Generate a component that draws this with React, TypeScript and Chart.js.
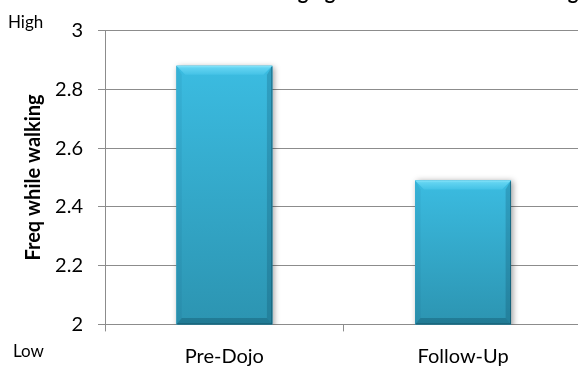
import React, { useEffect, useRef } from 'react';
import { Chart, registerables } from 'chart.js';

Chart.register(...registerables);

// Survey results: how often participants walk while distracted (2 = Low, 3 = High)
const categories = ['Pre-Dojo', 'Follow-Up'];
const freqValues = [2.88, 2.49];
const yTicks = [2, 2.2, 2.4, 2.6, 2.8, 3];
const highLabel = 'High';
const lowLabel = 'Low';
const yAxisTitle = 'Freq while walking';
const chartTitle = 'Changing Distractions while Walking';

const FONT = 'Lato, "Open Sans", sans-serif';
const GRID = '#8c8c8c';

// Soft drop shadow under the bars, then a bevelled face painted on top of each bar.
const bevelBars = {
  id: 'bevelBars',
  beforeDatasetDraw(chart: any) {
    const c = chart.ctx;
    c.save();
    c.shadowColor = 'rgba(0,0,0,0.38)';
    c.shadowBlur = 6;
    c.shadowOffsetX = 2;
    c.shadowOffsetY = 1;
  },
  afterDatasetDraw(chart: any) {
    chart.ctx.restore();
  },
  afterDatasetsDraw(chart: any) {
    const ctx = chart.ctx;
    const area = chart.chartArea;
    chart.getDatasetMeta(0).data.forEach((el: any) => {
      const { x, y, base, width } = el.getProps(['x', 'y', 'base', 'width'], true);
      const l = x - width / 2;
      const r = x + width / 2;
      const t = Math.max(y, area.top);
      const b = Math.min(base, area.bottom);
      const bv = 9;
      ctx.save();
      // body
      const body = ctx.createLinearGradient(0, t, 0, b);
      body.addColorStop(0, '#3bbce1');
      body.addColorStop(1, '#2c94b1');
      ctx.fillStyle = body;
      ctx.fillRect(l, t, width, b - t);
      // top bevel
      const top = ctx.createLinearGradient(0, t, 0, t + bv);
      top.addColorStop(0, '#8be6fb');
      top.addColorStop(0.25, '#62d3f1');
      top.addColorStop(1, '#44c2e6');
      ctx.fillStyle = top;
      ctx.beginPath();
      ctx.moveTo(l, t);
      ctx.lineTo(r, t);
      ctx.lineTo(r - bv, t + bv);
      ctx.lineTo(l + bv, t + bv);
      ctx.closePath();
      ctx.fill();
      // left bevel
      ctx.fillStyle = 'rgba(0,40,60,0.06)';
      ctx.beginPath();
      ctx.moveTo(l, t);
      ctx.lineTo(l + bv * 0.6, t + bv);
      ctx.lineTo(l + bv * 0.6, b - bv * 0.7);
      ctx.lineTo(l, b);
      ctx.closePath();
      ctx.fill();
      // right bevel
      ctx.fillStyle = 'rgba(0,40,60,0.18)';
      ctx.beginPath();
      ctx.moveTo(r, t);
      ctx.lineTo(r - bv * 0.6, t + bv);
      ctx.lineTo(r - bv * 0.6, b - bv * 0.7);
      ctx.lineTo(r, b);
      ctx.closePath();
      ctx.fill();
      // bottom bevel
      ctx.fillStyle = 'rgba(0,40,60,0.24)';
      ctx.beginPath();
      ctx.moveTo(l, b);
      ctx.lineTo(l + bv * 0.6, b - bv * 0.7);
      ctx.lineTo(r - bv * 0.6, b - bv * 0.7);
      ctx.lineTo(r, b);
      ctx.closePath();
      ctx.fill();
      // dark outer edge on right and bottom
      ctx.strokeStyle = 'rgba(10,70,90,0.55)';
      ctx.lineWidth = 1;
      ctx.beginPath();
      ctx.moveTo(r - 0.5, t + 1);
      ctx.lineTo(r - 0.5, b - 0.5);
      ctx.lineTo(l + 1, b - 0.5);
      ctx.stroke();
      ctx.restore();
    });
  },
};

// Scale end markers and the heading text above the plot.
const sideText = {
  id: 'sideText',
  afterDraw(chart: any) {
    const ctx = chart.ctx;
    ctx.save();
    ctx.fillStyle = '#000';
    ctx.font = `17px ${FONT}`;
    ctx.textAlign = 'left';
    ctx.textBaseline = 'alphabetic';
    ctx.fillText(highLabel, 8, 28);
    ctx.fillText(lowLabel, 13, 357);
    ctx.font = `bold 20px ${FONT}`;
    const pre = ctx.measureText('Chan').width;
    const gW = ctx.measureText('g').width;
    ctx.fillText(chartTitle, 303 - pre - gW / 2, -1.5);
    ctx.restore();
  },
};

export default function App() {
  const ref = useRef<HTMLCanvasElement>(null);

  useEffect(() => {
    if (!ref.current) return;
    const chart = new Chart(ref.current, {
      type: 'bar',
      data: {
        labels: categories,
        datasets: [
          {
            data: freqValues,
            backgroundColor: '#34acd0',
            borderWidth: 0,
            categoryPercentage: 1,
            barPercentage: 0.402,
          },
        ],
      },
      plugins: [bevelBars, sideText],
      options: {
        responsive: false,
        animation: false,
        devicePixelRatio: 1,
        layout: { padding: { top: 30.5, right: 17.6, left: 0, bottom: 0 } },
        plugins: {
          legend: { display: false },
          tooltip: { enabled: false },
          title: { display: false },
        },
        scales: {
          x: {
            type: 'category',
            z: 1,
            grid: {
              offset: true,
              drawOnChartArea: false,
              tickLength: 7,
              color: GRID,
              lineWidth: 1,
            },
            border: { color: GRID, width: 1 },
            ticks: {
              color: '#000',
              padding: 13,
              font: { family: FONT, size: 20 },
            },
            afterFit: (s: any) => {
              s.height = 44.6;
            },
          },
          y: {
            min: 2,
            max: 3,
            grid: { color: GRID, lineWidth: 1, tickLength: 7 },
            border: { color: GRID, width: 1 },
            afterBuildTicks: (s: any) => {
              s.ticks = yTicks.map((v) => ({ value: v }));
            },
            ticks: {
              color: '#000',
              padding: 15,
              font: { family: FONT, size: 20 },
              callback: (v: any) => String(Number(Number(v).toFixed(1))),
            },
            title: {
              display: true,
              text: yAxisTitle,
              color: '#000',
              font: { family: FONT, size: 20, weight: 'bold' },
              padding: { top: 22, bottom: 0 },
            },
            afterFit: (s: any) => {
              s.width = 105;
            },
          },
        },
      },
    });
    return () => chart.destroy();
  }, []);

  return (
    <div
      style={{
        position: 'absolute',
        left: 0,
        top: 0,
        width: 578,
        height: 369,
        overflow: 'hidden',
        background: '#fff',
      }}
    >
      <canvas ref={ref} width={600} height={369} style={{ display: 'block', width: 600, height: 369 }} />
    </div>
  );
}
